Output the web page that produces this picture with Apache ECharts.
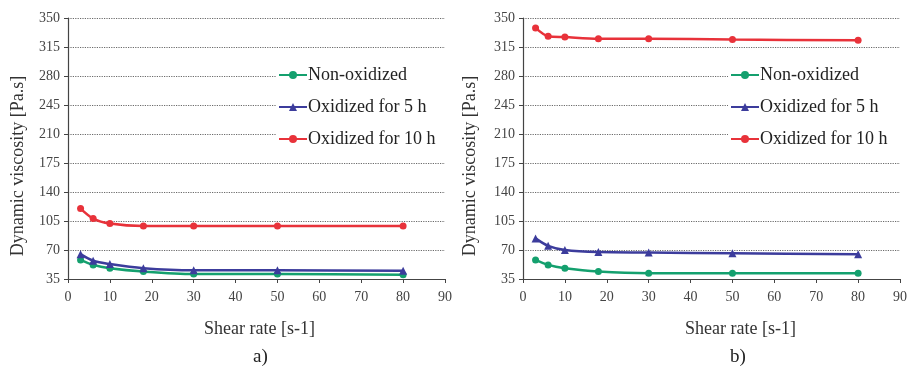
<!DOCTYPE html>
<html>
<head>
<meta charset="utf-8">
<script src="https://cdn.jsdelivr.net/npm/echarts@6/dist/echarts.min.js"></script>
<style>
  html, body { margin: 0; padding: 0; background: #fff; }
  #chart { width: 911px; height: 369px; }
</style>
</head>
<body>
<div id="chart"></div>
<script>
// Shear rates at which viscosity was measured [s-1]
const shearRate = [3, 6, 10, 18, 30, 50, 80];
const seriesNames = ['Non-oxidized', 'Oxidized for 5 h', 'Oxidized for 10 h'];
const yTicks = [35, 70, 105, 140, 175, 210, 245, 280, 315, 350];
const yTitle = 'Dynamic viscosity [Pa.s]';

// Panel a) dynamic viscosity [Pa.s]
const aNonOxidized = [58, 52, 48, 44, 41, 41, 40];
const aOxidized5h  = [65, 57, 53, 48, 45.5, 45.5, 45];
const aOxidized10h = [120, 108, 102, 99, 99, 99, 99];

// Panel b) dynamic viscosity [Pa.s]
const bNonOxidized = [58, 52, 48, 44, 42, 42, 42];
const bOxidized5h  = [84, 75, 70, 67.5, 67, 66, 65];
const bOxidized10h = [338, 328, 327, 325, 325, 324, 323];

const colors = ['#14a06e', '#3c3c9c', '#e8323a'];
const symbols = ['circle', 'triangle', 'circle'];
const serif = '"Liberation Serif", "DejaVu Serif", serif';

function pairs(ys) { return shearRate.map((x, i) => [x, ys[i]]); }

function makeSeries(gridIdx, lists) {
  return lists.map((ys, k) => ({
    name: seriesNames[k],
    type: 'line',
    xAxisIndex: gridIdx,
    yAxisIndex: gridIdx,
    data: pairs(ys),
    smooth: 0.3,
    symbol: symbols[k],
    symbolSize: k === 1 ? 8 : 7,
    itemStyle: { color: colors[k] },
    lineStyle: { color: colors[k], width: 2.5 },
    z: 3 + k
  }));
}

function xAxis(gridIdx, namePad) {
  return {
    type: 'value', gridIndex: gridIdx, min: 0, max: 90, interval: 10,
    name: 'Shear rate [s-1]', nameLocation: 'middle', nameGap: 41,
    nameTextStyle: { fontFamily: serif, fontSize: 18, color: '#333', padding: namePad },
    axisLine: { show: true, lineStyle: { color: '#444', width: 1.2 } },
    axisTick: { show: true, length: 4, lineStyle: { color: '#444' } },
    axisLabel: { fontFamily: serif, fontSize: 14, color: '#444', margin: 11 },
    splitLine: { show: false }
  };
}

function yAxis(gridIdx) {
  return {
    type: 'value', gridIndex: gridIdx, min: 35, max: 350, interval: 35,
    axisLine: { show: true, lineStyle: { color: '#444', width: 1.2 } },
    axisTick: { show: true, length: 4, lineStyle: { color: '#444' } },
    axisLabel: { fontFamily: serif, fontSize: 14, color: '#444', margin: 8,
      formatter: v => (yTicks.indexOf(v) >= 0 ? String(v) : '') },
    splitLine: { show: true, lineStyle: { color: '#6a6a6a', type: 'dotted', width: 1.2 } }
  };
}

function legend(left) {
  return {
    data: seriesNames,
    left: left, top: 61,
    orient: 'vertical',
    backgroundColor: '#fff',
    padding: [5, 20, 6, 2],
    itemWidth: 28, itemHeight: 10, itemGap: 14,
    textStyle: { fontFamily: serif, fontSize: 18, color: '#222', padding: [0, 0, 0, -4] },
    selectedMode: false,
    z: 2
  };
}

// Rotated y-axis title placed beside each panel
function yTitleText(cx) {
  return {
    type: 'text', x: cx, y: 166, rotation: Math.PI / 2,
    style: { text: yTitle, font: '18px ' + serif, fill: '#333', align: 'center', verticalAlign: 'middle' }
  };
}

const chart = echarts.init(document.getElementById('chart'), null, { renderer: 'canvas' });
chart.setOption({
  backgroundColor: '#fff',
  animation: false,
  title: [
    { text: 'a)', left: 248, top: 343, textStyle: { fontFamily: serif, fontSize: 19, fontWeight: 'normal', color: '#222' } },
    { text: 'b)', left: 725, top: 343, textStyle: { fontFamily: serif, fontSize: 19, fontWeight: 'normal', color: '#222' } }
  ],
  graphic: [yTitleText(18), yTitleText(470)],
  legend: [legend(276), legend(728)],
  grid: [
    { left: 68, right: 466, top: 18, bottom: 90 },
    { left: 523, right: 11, top: 18, bottom: 90 }
  ],
  xAxis: [xAxis(0, [0, 0, 0, 6]), xAxis(1, [0, 0, 0, 58])],
  yAxis: [yAxis(0), yAxis(1)],
  series: [
    ...makeSeries(0, [aNonOxidized, aOxidized5h, aOxidized10h]),
    ...makeSeries(1, [bNonOxidized, bOxidized5h, bOxidized10h])
  ]
});
</script>
</body>
</html>
